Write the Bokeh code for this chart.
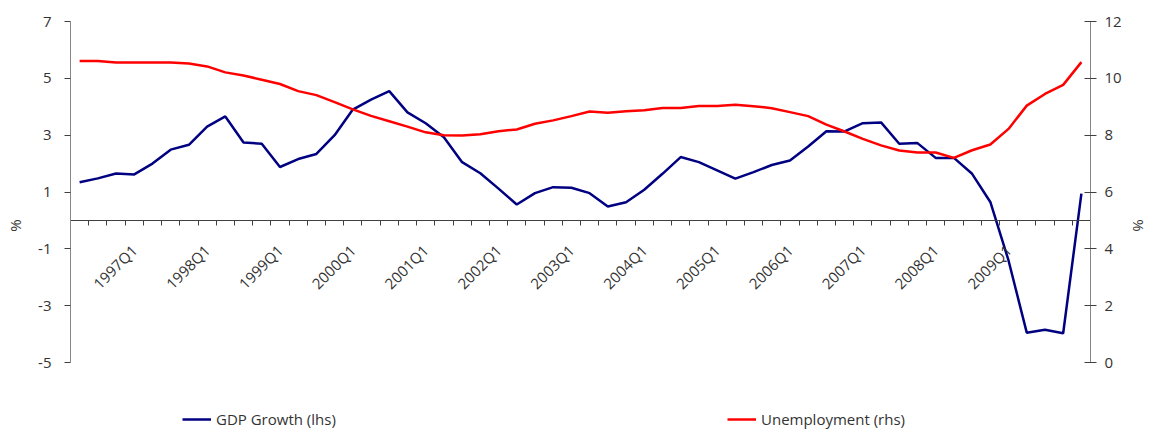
import math
import numpy as np
from bokeh.plotting import figure
from bokeh.models import Range1d, LinearAxis, FixedTicker, Legend, LegendItem
from bokeh.embed import file_html
from bokeh.resources import INLINE

# ---- data ----
quarters = ["1996Q2", "1996Q3", "1996Q4"] + [f"{y}Q{q}" for y in range(1997, 2010) for q in (1, 2, 3, 4)] + ["2010Q1"]
tick_labels = [f"{y}Q1" for y in range(1997, 2010)]

gdp_growth = [1.34, 1.48, 1.65, 1.62, 2.00, 2.49, 2.66, 3.30, 3.66, 2.74,
              2.70, 1.88, 2.16, 2.34, 3.00, 3.90, 4.25, 4.55, 3.80, 3.42,
              2.93, 2.05, 1.66, 1.12, 0.56, 0.96, 1.17, 1.15, 0.96, 0.49,
              0.64, 1.08, 1.64, 2.23, 2.05, 1.76, 1.47, 1.70, 1.95, 2.11,
              2.60, 3.14, 3.13, 3.42, 3.45, 2.70, 2.72, 2.20, 2.20, 1.64,
              0.65, -1.41, -3.95, -3.85, -3.97, 0.94]

unemployment = [10.61, 10.61, 10.56, 10.56, 10.56, 10.56, 10.52, 10.42, 10.21, 10.10,
                9.95, 9.80, 9.55, 9.41, 9.16, 8.91, 8.68, 8.49, 8.30, 8.10,
                8.00, 7.99, 8.03, 8.14, 8.20, 8.40, 8.52, 8.67, 8.83, 8.79,
                8.84, 8.88, 8.96, 8.96, 9.03, 9.03, 9.07, 9.02, 8.95, 8.81,
                8.67, 8.37, 8.13, 7.87, 7.64, 7.46, 7.39, 7.39, 7.20, 7.47,
                7.67, 8.22, 9.04, 9.45, 9.77, 10.57]

left_ticks = [-5, -3, -1, 1, 3, 5, 7]
right_ticks = [0, 2, 4, 6, 8, 10, 12]

FONT = "Open Sans"
TXT = "#333333"

W, H = 1152, 429
BL, BR, BT = 70, 62, 21
AXIS_PX = 341                       # pixel height of the -5..7 axis span
frame_h = H - BT                    # frame runs to the bottom of the figure
px_per_unit = AXIS_PX / (left_ticks[-1] - left_ticks[0])
extra = (frame_h - AXIS_PX) / px_per_unit

n = len(quarters)
x = np.arange(n) + 0.5

p = figure(width=W, height=H, x_range=Range1d(0, n),
           y_range=Range1d(left_ticks[0] - extra, left_ticks[-1]),
           output_backend="svg", toolbar_location=None,
           min_border_left=BL, min_border_right=BR, min_border_top=BT, min_border_bottom=0)
p.extra_y_ranges = {"rhs": Range1d(right_ticks[0] - extra, right_ticks[-1])}
p.outline_line_color = None
p.xgrid.visible = False
p.ygrid.visible = False

# x axis at y = 0
xa = p.xaxis[0]
xa.fixed_location = 0
lab_pos = {float(x[quarters.index(t)]): t for t in tick_labels}
xa.ticker = FixedTicker(ticks=list(lab_pos.keys()), minor_ticks=list(range(n + 1)))
xa.major_label_overrides = lab_pos
xa.major_label_orientation = math.pi / 4
xa.major_tick_out = 0
xa.major_tick_in = 0
xa.major_tick_line_color = None
xa.minor_tick_out = 5
xa.minor_tick_in = 0
xa.minor_tick_line_color = "#404040"
xa.axis_line_color = "#404040"
xa.major_label_standoff = 22
xa.major_label_text_font = FONT
xa.major_label_text_font_size = "15px"
xa.major_label_text_color = TXT

# left axis
ya = p.yaxis[0]
ya.bounds = (left_ticks[0], left_ticks[-1])
ya.ticker = FixedTicker(ticks=left_ticks)
ya.major_label_overrides = {float(t): str(t) for t in left_ticks}
ya.axis_label = "%"
ya.minor_tick_line_color = None
ya.major_tick_out = 6
ya.major_tick_in = 0
ya.axis_line_color = "#868686"
ya.major_tick_line_color = "#404040"
ya.major_label_standoff = 13
ya.axis_label_standoff = 10
ya.major_label_text_font = FONT
ya.major_label_text_font_size = "15px"
ya.major_label_text_color = TXT
ya.axis_label_text_font = FONT
ya.axis_label_text_font_size = "15px"
ya.axis_label_text_font_style = "normal"
ya.axis_label_text_color = TXT

# right axis
ra = LinearAxis(y_range_name="rhs", ticker=FixedTicker(ticks=right_ticks), axis_label="%",
                bounds=(right_ticks[0], right_ticks[-1]))
ra.minor_tick_line_color = None
ra.major_tick_out = 6
ra.major_tick_in = 6
ra.axis_line_color = "#868686"
ra.major_tick_line_color = "#404040"
ra.major_label_standoff = 8
ra.axis_label_standoff = 4
ra.major_label_text_font = FONT
ra.major_label_text_font_size = "15px"
ra.major_label_text_color = TXT
ra.axis_label_text_font = FONT
ra.axis_label_text_font_size = "15px"
ra.axis_label_text_font_style = "normal"
ra.axis_label_text_color = TXT
p.add_layout(ra, "right")

r_gdp = p.line(x, gdp_growth, line_color="#000080", line_width=2.5)
r_un = p.line(x, unemployment, y_range_name="rhs", line_color="#FF0000", line_width=2.5)

def mk_legend(label, r, loc):
    return Legend(items=[LegendItem(label=label, renderers=[r])], location=loc,
                  orientation="horizontal", padding=0, margin=0, spacing=0,
                  glyph_width=29, glyph_height=16, label_standoff=5,
                  label_text_font=FONT, label_text_font_size="15px", label_text_color=TXT,
                  border_line_color=None, background_fill_alpha=0)

p.add_layout(mk_legend("GDP Growth (lhs)", r_gdp, (112, 0)), "center")
p.add_layout(mk_legend("Unemployment (rhs)", r_un, (657, 0)), "center")

open("out.html", "w").write(file_html(p, INLINE))
